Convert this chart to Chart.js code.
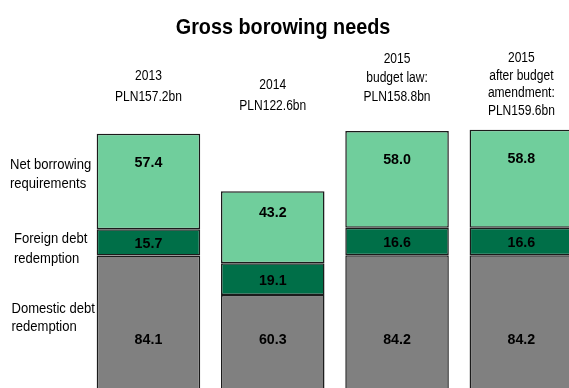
<!DOCTYPE html>
<html>
<head>
<meta charset="utf-8">
<script src="https://cdn.jsdelivr.net/npm/chart.js@4/dist/chart.umd.min.js"></script>
<style>
  html, body { margin: 0; padding: 0; background: #fff; overflow: hidden; }
  #frame { width: 569px; height: 388px; overflow: hidden; position: relative; }
  #box { width: 600px; height: 400px; position: absolute; left: 0; top: 0; }
</style>
</head>
<body>
<div id="frame"><div id="box"><canvas id="gross_needs_chart"></canvas></div></div>
<script>
const categories = ["2013", "2014", "2015 budget law", "2015 after budget amendment"];
const headerLabels = [
    ["2013", "PLN157.2bn"],
    ["2014", "PLN122.6bn"],
    ["2015", "budget law:", "PLN158.8bn"],
    ["2015", "after budget", "amendment:", "PLN159.6bn"]
];
const domesticRedemption = [84.1, 60.3, 84.2, 84.2];
const foreignRedemption = [15.7, 19.1, 16.6, 16.6];
const netBorrowing = [57.4, 43.2, 58.0, 58.8];
const seriesNames = [["Domestic debt", "redemption"], ["Foreign debt", "redemption"], ["Net borrowing", "requirements"]];

const FONT = "'Liberation Sans', Arial, sans-serif";

// narrow-looking text: draw with a horizontal squeeze
function squeezedText(ctx, text, x, y, sx) {
    ctx.save();
    ctx.translate(x, y);
    ctx.scale(sx, 1);
    ctx.fillText(text, 0, 0);
    ctx.restore();
}

const textLayer = {
    id: 'textLayer',
    afterDatasetsDraw(chart) {
        const {ctx, scales: {x, y}} = chart;
        ctx.save();
        ctx.fillStyle = '#000';

        // title
        ctx.font = 'bold 22px ' + FONT;
        ctx.textAlign = 'center';
        ctx.textBaseline = 'alphabetic';
        squeezedText(ctx, 'Gross borowing needs', 283, 34, 0.9);

        // headers above bars
        const headerBottom = [97, 106, 97, 111];
        const headerGap = [20.5, 21, 19, 17.5];
        ctx.font = '14px ' + FONT;
        ctx.textBaseline = 'middle';
        headerLabels.forEach((lines, i) => {
            const cx = x.getPixelForValue(i);
            lines.forEach((line, j) => {
                const yy = headerBottom[i] - (lines.length - 1 - j) * headerGap[i];
                squeezedText(ctx, line, cx, yy, 0.86);
            });
        });

        // left labels
        ctx.font = '15px ' + FONT;
        ctx.textAlign = 'left';
        const leftPos = [[11.5, 309, 18], [14, 239, 20], [10, 164.5, 19]];
        seriesNames.forEach((lines, k) => {
            const [lx, ly, gap] = leftPos[k];
            lines.forEach((line, j) => squeezedText(ctx, line, lx, ly + j * gap, 0.87));
        });

        // values inside segments
        ctx.font = 'bold 15px ' + FONT;
        ctx.textAlign = 'center';
        chart.data.datasets.forEach((ds, k) => {
            const meta = chart.getDatasetMeta(k);
            meta.data.forEach((bar, i) => {
                const top = bar.y, bottom = bar.base;
                let ty;
                if (k === 0) ty = y.getPixelForValue(33.3);
                else if (k === 1) ty = (top + bottom) / 2 + 1.5;
                else ty = top + (bottom - top) * 0.3;
                squeezedText(ctx, ds.data[i].toFixed(1), bar.x, ty, 0.95);
            });
        });
        ctx.restore();
    }
};

function make_chart() {
    const common = {
        borderColor: '#1b1b1b',
        borderWidth: 1.5,
        borderSkipped: false,
        barPercentage: 0.833,
        categoryPercentage: 1.0
    };
    new Chart(document.getElementById("gross_needs_chart"), {
        type: "bar",
        data: {
            labels: categories,
            datasets: [
                Object.assign({label: "Domestic debt redemption", data: domesticRedemption, backgroundColor: "#808080"}, common),
                Object.assign({label: "Foreign debt redemption", data: foreignRedemption, backgroundColor: "#006f48"}, common),
                Object.assign({label: "Net borrowing requirements", data: netBorrowing, backgroundColor: "#70ce9c"}, common)
            ]
        },
        options: {
            responsive: true,
            maintainAspectRatio: false,
            animation: false,
            layout: {
                padding: {left: 86.3, right: 16.5, top: 129.1, bottom: 4.5}
            },
            scales: {
                x: {
                    stacked: true,
                    display: false
                },
                y: {
                    stacked: true,
                    display: false,
                    min: 0,
                    max: 160
                }
            },
            plugins: {
                legend: {display: false},
                title: {display: false},
                tooltip: {enabled: false}
            }
        },
        plugins: [textLayer]
    });
}

make_chart();
</script>
</body>
</html>
